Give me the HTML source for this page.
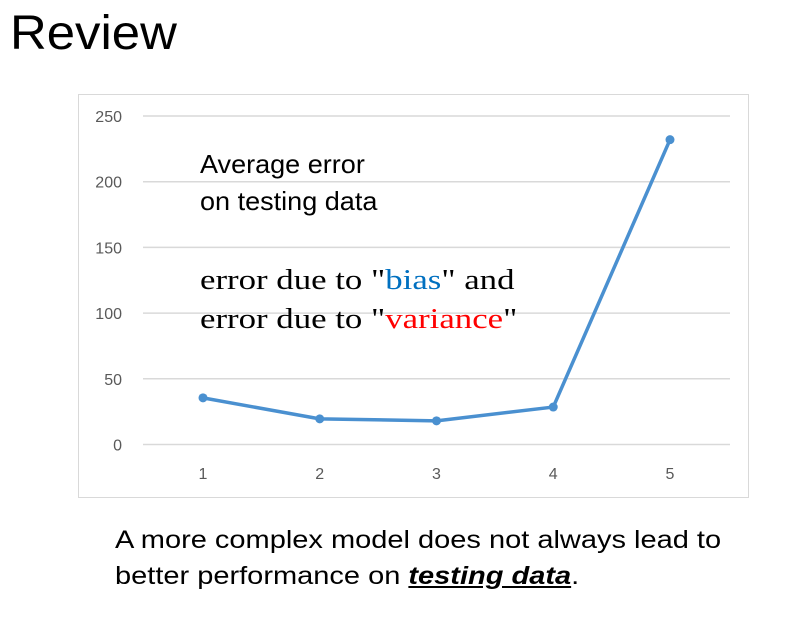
<!DOCTYPE html>
<html><head><meta charset="utf-8"><style>
body{margin:0;width:789px;height:619px;background:#fff;overflow:hidden;position:relative;font-family:"Liberation Sans",sans-serif}
.t{position:absolute;white-space:nowrap;transform-origin:0 0}
</style></head><body>
<div class="t" style="left:10px;top:6px;font-size:48px;color:#000;transform:scaleX(1.06)">Review</div>
<svg id="ch" width="789" height="619" style="position:absolute;left:0;top:0">
<rect x="78.5" y="94.5" width="670" height="403" fill="none" stroke="#d9d9d9"/>
</svg>
<div class="t" style="left:200px;top:146px;font-size:26px;line-height:37px;color:#000;transform:scaleX(1.04)">Average error<br>on testing data</div>
<div class="t" style="left:200px;top:261px;font-family:'Liberation Serif',serif;font-size:29px;line-height:39px;color:#000;transform:scaleX(1.2)">error due to "<span style="color:#0070c0">bias</span>" and<br>error due to "<span style="color:#ff0000">variance</span>"</div>
<div class="t" style="left:115px;top:522px;font-size:25px;line-height:36px;color:#000;transform:scaleX(1.16)">A more complex model does not always lead to<br>better performance on <b><i><u>testing data</u></i></b>.</div>
<script>
const categories=[1,2,3,4,5];
const errors=[35.5,19.5,18,28.5,232];
const yTicks=[0,50,100,150,200,250];
const svg=document.getElementById('ch');
const NS='http://www.w3.org/2000/svg';
const x=i=>203+i*116.75;
const y=v=>444.5-v*(328.5/250);
function mk(t,a){const e=document.createElementNS(NS,t);for(const k in a)e.setAttribute(k,a[k]);svg.appendChild(e);return e;}
yTicks.forEach(v=>{
 const l=mk('line',{x1:143,x2:730,y1:y(v),y2:y(v),stroke:'#d9d9d9','stroke-width':1.5});
 
 
 const t=mk('text',{x:122,y:y(v)+6,'text-anchor':'end','font-size':16,fill:'#595959','font-family':'Liberation Sans, sans-serif'});
 t.textContent=v;
 
 
});
categories.forEach((c,i)=>{
 const t=mk('text',{x:x(i),y:479,'text-anchor':'middle','font-size':16,fill:'#595959','font-family':'Liberation Sans, sans-serif'});
 t.textContent=c;
 
 
});
const pl=mk('polyline',{points:errors.map((v,i)=>x(i)+','+y(v)).join(' '),fill:'none',stroke:'#4a90d0','stroke-width':3.5,'stroke-linejoin':'round'});


errors.forEach((v,i)=>{
 const c=mk('circle',{cx:x(i),cy:y(v),r:4.5,fill:'#4a90d0'});
 
 
});
</script>
</body></html>
